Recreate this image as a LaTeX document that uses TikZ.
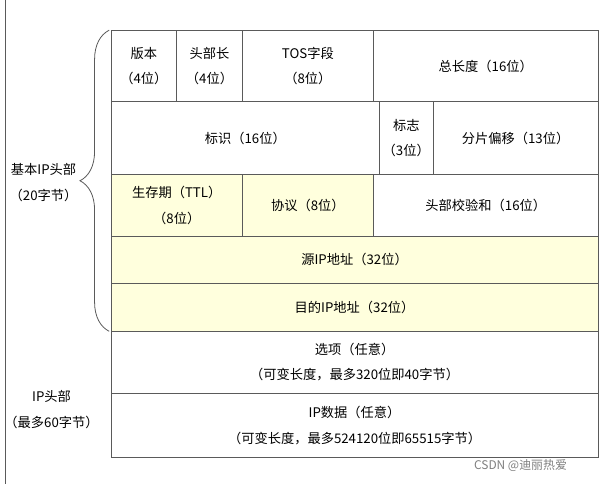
\documentclass[tikz,border=0pt]{standalone}
\usepackage{fontspec}
\setmainfont{Noto Sans CJK SC}
\usetikzlibrary{decorations.pathreplacing}
\definecolor{lineg}{RGB}{90,90,90}
\definecolor{paleyel}{RGB}{255,255,221}
\tikzset{
  cell/.style={draw=lineg, line width=0.6pt, inner sep=0pt, outer sep=0pt, align=center,
    font=\fontsize{10}{19.5}\selectfont},
  side/.style={align=center, font=\fontsize{10}{19.5}\selectfont},
}
% name, x1, y1, x2, y2, fill, text
\newcommand{\cellbox}[7]{%
  \node[cell, fill=#6, minimum width=(#4-#2)*0.75pt, minimum height=(#5-#3)*0.75pt]
    (#1) at ({(#2+#4)/2},{(#3+#5)/2}) {#7};}
\begin{document}
\begin{tikzpicture}[x=0.75pt,y=-0.75pt]
  \fill[white] (0,0) rectangle (605,487);
  \draw[lineg, line width=0.6pt] (2,0) -- (2,487);

  \cellbox{ver}{108}{30}{174}{102}{white}{版本\\（4位）}
  \cellbox{hlen}{174}{30}{240}{102}{white}{头部长\\（4位）}
  \cellbox{tos}{240}{30}{372}{102}{white}{TOS字段\\（8位）}
  \cellbox{tlen}{372}{30}{598}{102}{white}{总长度（16位）}

  \cellbox{ident}{108}{102}{378}{175}{white}{标识（16位）}
  \cellbox{flag}{378}{102}{432}{175}{white}{标志\\（3位）}
  \cellbox{frag}{432}{102}{598}{175}{white}{分片偏移（13位）}

  \cellbox{ttl}{108}{175}{240}{237}{paleyel}{生存期（TTL）\\（8位）}
  \cellbox{proto}{240}{175}{372}{237}{paleyel}{协议（8位）}
  \cellbox{csum}{372}{175}{598}{237}{white}{头部校验和（16位）}

  \cellbox{src}{108}{237}{598}{285}{paleyel}{源IP地址（32位）}
  \cellbox{dst}{108}{285}{598}{333}{paleyel}{目的IP地址（32位）}

  \cellbox{opt}{108}{333}{598}{395}{white}{选项（任意）\\（可变长度，最多320位即40字节）}
  \cellbox{data}{108}{395}{598}{460}{white}{IP数据（任意）\\（可变长度，最多524120位即65515字节）}

  \coordinate (bb) at (106,333);
  \coordinate (bt) at (106,30);
  \draw[lineg, line width=0.6pt, decoration={brace, amplitude=22pt}, decorate] (bb) -- (bt);

  \node[side] (basic) at (40,183) {基本IP头部\\（20字节）};
  \node[side] (iphdr) at (48,412) {IP头部\\（最多60字节）};
  \node[font=\fontsize{9}{10}\selectfont, text=gray] (mark) at (520,468) {CSDN @迪丽热爱};
\end{tikzpicture}
\end{document}
